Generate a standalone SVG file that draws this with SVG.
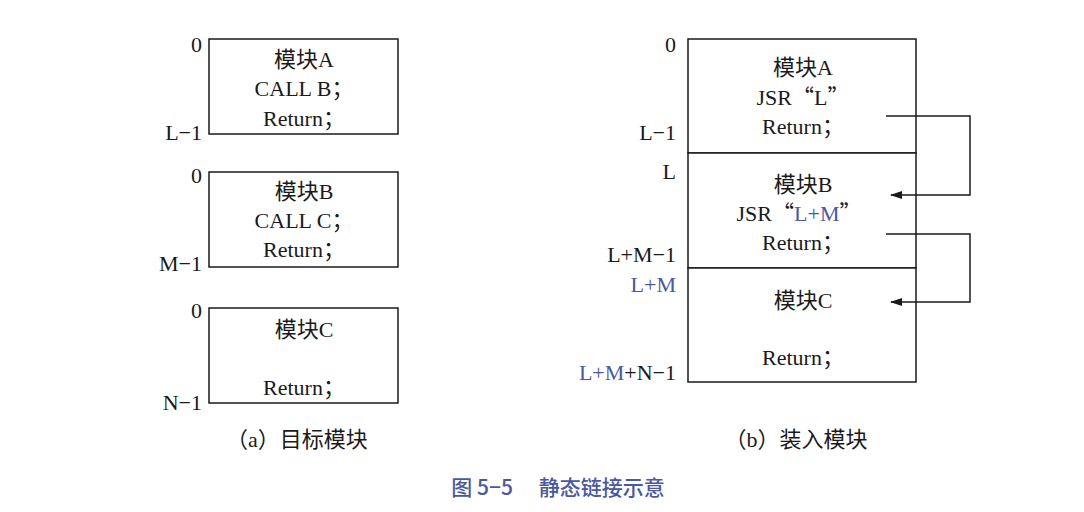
<svg xmlns="http://www.w3.org/2000/svg" width="1084" height="512" viewBox="0 0 1084 512">
<defs>
<style>
.t{font-family:"Liberation Serif","Noto Sans CJK SC",serif;font-size:22px;fill:#1a1a1a}
.m{text-anchor:middle}
.r{text-anchor:end}
.b{fill:#4a58a0}
.q{font-family:"Noto Sans CJK SC",sans-serif}
.box{fill:#fff;stroke:#1a1a1a;stroke-width:1.5}
.ln{fill:none;stroke:#1a1a1a;stroke-width:1.5}
.cap{font-family:"Noto Sans CJK SC","Noto Sans",sans-serif;font-size:21px;font-weight:500;fill:#4a58a0;text-anchor:middle}
</style>
<marker id="ah" viewBox="0 0 12 8" refX="11" refY="4" markerWidth="12" markerHeight="8" markerUnits="userSpaceOnUse" orient="auto">
<path d="M0,0 L12,4 L0,8 Z" fill="#1a1a1a"/>
</marker>
</defs>
<rect width="1084" height="512" fill="#fff"/>

<g id="left-A">
<rect class="box" x="209" y="39" width="189" height="95"/>
<text class="t m" x="304" y="67">模块A</text>
<text class="t m" x="304" y="96">CALL B；</text>
<text class="t m" x="304" y="126">Return；</text>
<text class="t r" x="202" y="52">0</text>
<text class="t r" x="202" y="140">L−1</text>
</g>
<g id="left-B">
<rect class="box" x="209" y="172" width="189" height="95"/>
<text class="t m" x="304" y="199">模块B</text>
<text class="t m" x="304" y="228">CALL C；</text>
<text class="t m" x="304" y="257">Return；</text>
<text class="t r" x="202" y="183">0</text>
<text class="t r" x="202" y="271">M−1</text>
</g>
<g id="left-C">
<rect class="box" x="209" y="308" width="189" height="95"/>
<text class="t m" x="304" y="337">模块C</text>
<text class="t m" x="304" y="395">Return；</text>
<text class="t r" x="202" y="318">0</text>
<text class="t r" x="202" y="410">N−1</text>
</g>
<text class="t m" x="297" y="447">（a）目标模块</text>

<g id="right-A">
<rect class="box" x="688" y="39" width="228" height="114"/>
<text class="t m" x="803" y="75">模块A</text>
<text class="t m" x="803" y="105">JSR<tspan class="q">“</tspan>L<tspan class="q">”</tspan></text>
<text class="t m" x="803" y="134">Return；</text>
<text class="t r" x="676" y="52">0</text>
<text class="t r" x="676" y="140">L−1</text>
</g>
<g id="right-B">
<rect class="box" x="688" y="153" width="228" height="115"/>
<text class="t m" x="803" y="192">模块B</text>
<text class="t m" x="799" y="221">JSR<tspan class="q">“</tspan><tspan class="b">L+M</tspan><tspan class="q">”</tspan></text>
<text class="t m" x="803" y="250">Return；</text>
<text class="t r" x="676" y="179">L</text>
<text class="t r" x="676" y="262">L+M−1</text>
</g>
<g id="right-C">
<rect class="box" x="688" y="268" width="228" height="114"/>
<text class="t m" x="803" y="308">模块C</text>
<text class="t m" x="803" y="365">Return；</text>
<text class="t r b" x="676" y="292">L+M</text>
<text class="t r" x="676" y="380"><tspan class="b">L+M</tspan>+N−1</text>
</g>
<text class="t m" x="796" y="447">（b）装入模块</text>

<g id="connectors">
<polyline class="ln" points="886,116 970,116 970,195 891,195" marker-end="url(#ah)"/>
<polyline class="ln" points="886,234 970,234 970,302 891,302" marker-end="url(#ah)"/>
</g>

<text class="cap" x="558" y="495">图 5−5　 静态链接示意</text>
</svg>
